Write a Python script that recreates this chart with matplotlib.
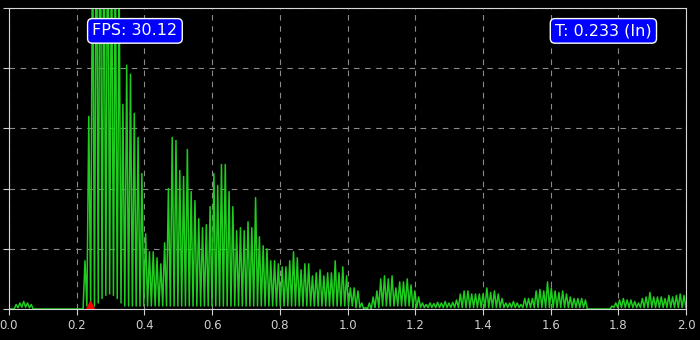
import numpy as np
import matplotlib
matplotlib.use("Agg")
import matplotlib.pyplot as plt

# small bump near the start (peak heights, trough heights)
bump_start = 0.021
bump_peaks = [0.015, 0.02, 0.025, 0.02, 0.015]
bump_troughs = [0.004, 0.006, 0.006, 0.004, 0.0]

# main signal, one peak / trough pair per period
main_start = 0.2245
period = 0.0112
main_peaks = [
    0.16, 0.64, 1.30, 1.50, 1.60, 1.40, 1.50, 1.30, 1.20, 1.10,
    0.68, 0.81, 0.78, 0.65, 0.57, 0.45, 0.25, 0.19, 0.19, 0.17,
    0.15, 0.22, 0.40, 0.57, 0.56, 0.46, 0.44, 0.53, 0.39, 0.36,
    0.30, 0.27, 0.28, 0.34, 0.45, 0.41, 0.48, 0.48, 0.39, 0.34,
    0.26, 0.27, 0.26, 0.29, 0.27, 0.37, 0.24, 0.21, 0.20, 0.16,
    0.16, 0.15, 0.14, 0.14, 0.16, 0.19, 0.17, 0.13, 0.15, 0.15,
    0.11, 0.12, 0.13, 0.11, 0.12, 0.12, 0.16, 0.12, 0.14, 0.11,
    0.07, 0.07, 0.06, 0.02, 0.005, 0.02, 0.04, 0.06, 0.10, 0.11,
    0.10, 0.11, 0.07, 0.09, 0.09, 0.10, 0.08, 0.06, 0.04, 0.02,
    0.015, 0.02, 0.018, 0.022, 0.02, 0.025, 0.02, 0.022, 0.03, 0.05,
    0.06, 0.06, 0.05, 0.05, 0.05, 0.05, 0.07, 0.055, 0.06, 0.05,
    0.035, 0.02, 0.02, 0.025, 0.02, 0.015, 0.035, 0.035, 0.035, 0.06,
    0.065, 0.06, 0.09, 0.07, 0.06, 0.055, 0.06, 0.05, 0.04, 0.035,
    0.035, 0.035, 0.03, 0.0, 0.0, 0.0, 0.0, 0.0, 0.0, 0.01,
    0.02, 0.03, 0.035, 0.03, 0.03, 0.025, 0.02, 0.035, 0.04, 0.055,
    0.04, 0.04, 0.04, 0.035, 0.045, 0.04, 0.045, 0.05, 0.045,
]
main_troughs = [
    0.01, 0.01, 0.01, 0.02, 0.035, 0.045, 0.05, 0.045, 0.035, 0.02,
    0.01, 0.01, 0.01, 0.01, 0.01, 0.01, 0.01, 0.01, 0.01, 0.01,
    0.01, 0.01, 0.01, 0.01, 0.01, 0.01, 0.01, 0.01, 0.01, 0.01,
    0.01, 0.01, 0.01, 0.01, 0.01, 0.01, 0.01, 0.01, 0.01, 0.01,
    0.01, 0.01, 0.01, 0.01, 0.01, 0.01, 0.01, 0.01, 0.01, 0.01,
    0.01, 0.01, 0.01, 0.01, 0.01, 0.01, 0.01, 0.01, 0.01, 0.01,
    0.01, 0.01, 0.01, 0.01, 0.01, 0.01, 0.01, 0.01, 0.01, 0.01,
    0.01, 0.005, 0.005, 0.0, 0.0, 0.0, 0.005, 0.005, 0.01, 0.01,
    0.01, 0.01, 0.01, 0.01, 0.01, 0.01, 0.005, 0.005, 0.005, 0.005,
    0.005, 0.005, 0.005, 0.005, 0.005, 0.005, 0.005, 0.005, 0.005, 0.005,
    0.005, 0.005, 0.005, 0.005, 0.005, 0.005, 0.005, 0.005, 0.005, 0.005,
    0.005, 0.005, 0.005, 0.005, 0.005, 0.005, 0.005, 0.005, 0.005, 0.005,
    0.005, 0.005, 0.005, 0.005, 0.005, 0.005, 0.005, 0.005, 0.005, 0.005,
    0.005, 0.005, 0.0, 0.0, 0.0, 0.0, 0.0, 0.0, 0.0, 0.005,
    0.005, 0.005, 0.005, 0.005, 0.005, 0.005, 0.005, 0.005, 0.005, 0.005,
    0.005, 0.005, 0.005, 0.005, 0.005, 0.005, 0.005, 0.005, 0.005,
]

marker_x = 0.24
fps_text = "FPS: 30.12"
t_text = "T: 0.233 (In)"
x_ticks = [0.0, 0.2, 0.4, 0.6, 0.8, 1.0, 1.2, 1.4, 1.6, 1.8, 2.0]
y_ticks = [0.0, 0.2, 0.4, 0.6, 0.8, 1.0]


def interleave(start, peaks, troughs):
    # peak then trough, half a period apart
    vals = np.empty(2 * len(peaks))
    vals[0::2] = peaks
    vals[1::2] = troughs
    xs = start + np.arange(len(vals)) * period / 2
    return xs, vals


bx, by = interleave(bump_start, bump_peaks, bump_troughs)
mx, my = interleave(main_start, main_peaks, main_troughs)
x = np.concatenate([[0.0, bump_start - period / 2], bx, [main_start - period / 2], mx])
y = np.concatenate([[0.0, 0.0], by, [0.0], my])

fig = plt.figure(figsize=(7, 3.4), dpi=100, facecolor="black")
ax = fig.add_axes([9 / 700, 31 / 340, 677 / 700, 301 / 340])
ax.set_facecolor("black")

ax.plot(x, y, color="#1fcc1f", lw=1.1, zorder=2)
ax.plot([marker_x], [0.0], marker="^", color="red", markersize=11, zorder=3)

ax.set_xlim(0, 2.0)
ax.set_ylim(0, 1.0)
ax.set_xticks(x_ticks)
ax.set_yticks(y_ticks)
ax.set_yticklabels([])
ax.tick_params(colors="#d0d0d0", labelsize=8.5, length=4)
ax.grid(True, color="#8a8a8a", linestyle=(0, (5, 5)), lw=0.8)
for s in ax.spines.values():
    s.set_color("#d8d8d8")
    s.set_zorder(4)

box = dict(boxstyle="round,pad=0.3", facecolor="#0000ff", edgecolor="white", lw=1)
ax.text(0.186, 0.924, fps_text, transform=ax.transAxes, ha="center", va="center",
        color="white", fontsize=11.5, bbox=box, zorder=5)
ax.text(0.878, 0.924, t_text, transform=ax.transAxes, ha="center", va="center",
        color="white", fontsize=11.5, bbox=box, zorder=5)

fig.savefig("out.png", dpi=100, facecolor="black")
